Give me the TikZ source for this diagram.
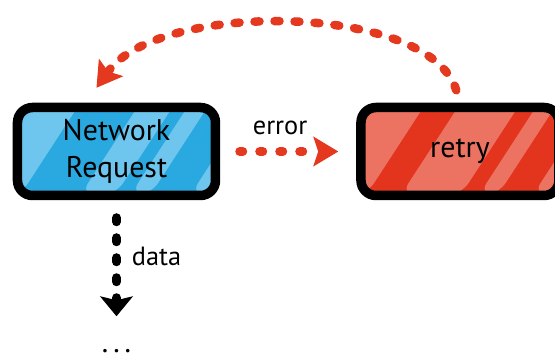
\documentclass[tikz,border=0pt]{standalone}
\usepackage{fontspec}
\setmainfont{PT Sans}
\usepackage{xcolor}
\usetikzlibrary{arrows.meta, positioning}

\definecolor{reqblue}{HTML}{2AA9E0}
\definecolor{reqlight}{HTML}{6EC6EE}
\definecolor{retryred}{HTML}{E3351E}
\definecolor{retrylight}{HTML}{EC7262}
\definecolor{flowred}{HTML}{E4381F}

\begin{document}
\begin{tikzpicture}[>=Stealth,
        box/.style={rectangle, draw=black, line width=0.19cm, rounded corners=0.3cm, minimum width=3.96cm, minimum height=1.76cm, align=center, font=\fontsize{17}{21}\selectfont},
        stripes/.style 2 args={path picture={
            \foreach \a/\w in {#2}
                \fill[#1] ([xshift=\a cm]path picture bounding box.south west) -- ++(\w cm,0) -- ++(1.3cm,2cm) -- ++(-\w cm,0) -- cycle;
        }},
        lbl/.style={font=\fontsize{15}{18}\selectfont},
        redflow/.style={draw=flowred, line width=0.18cm, line cap=round, dash pattern=on 0.06cm off 0.34cm,
            -{Stealth[length=0.5cm, width=0.6cm, inset=0.1cm, line width=0.6pt]}},
        blackflow/.style={draw=black, line width=0.18cm, line cap=round, dash pattern=on 0.08cm off 0.32cm,
            -{Stealth[length=0.4cm, width=0.66cm, inset=0.08cm, line width=0.6pt]}}]

    \useasboundingbox (-2.33,-4.19) rectangle (8.77,3.03);

    \node (request) [box, fill=reqblue, stripes={reqlight}{-1.15/1.2, 1.25/0.7, 2.25/0.4, 3.45/0.6}] {Network\\Request};
    \node (retry) [box, fill=retryred, stripes={retrylight}{-1.1/1.2, 0.79/1.2, 2.35/0.38, 3.43/0.56}, right=2.72cm of request] {retry};
    \node (more) [below=2.98cm of request, inner sep=0pt, font=\fontsize{17}{21}\selectfont] {.\,.\,.};

    \draw[redflow, shorten <=0.39cm, shorten >=0.36cm] (request) -- node[pos=0.44, above=0.13cm, lbl] {error} (retry);
    % way back
    \draw[redflow, line width=0.17cm, dash pattern=on 0.1cm off 0.3cm, shorten <=0.26cm] (retry.north) .. controls +(-0.6,2.0) and +(1.26,1.75) .. ([xshift=-0.4cm, yshift=0.3cm]request.north);
    \draw[blackflow, shorten <=0.35cm, shorten >=0.66cm] (request) -- node[pos=0.38, right=0.1cm, lbl] {data} (more);
\end{tikzpicture}
\end{document}
